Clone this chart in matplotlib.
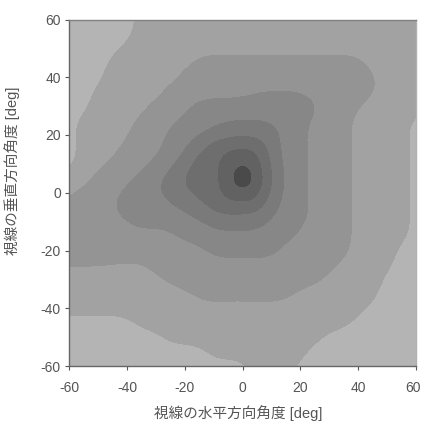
import numpy as np
import matplotlib
matplotlib.use("Agg")
import matplotlib.pyplot as plt
import matplotlib.tri as mtri
from matplotlib.transforms import ScaledTranslation

plt.rcParams['font.family'] = ['Liberation Sans', 'Noto Sans CJK JP', 'DejaVu Sans']
plt.rcParams['axes.unicode_minus'] = False

# grid positions (deg)
h_angle = [-60, -55, -50, -45, -40, -35, -30, -25, -20, -15, -10, -5, 0,
           5, 10, 15, 20, 25, 30, 35, 40, 45, 50, 55, 60]
v_angle = [60, 55, 50, 45, 40, 35, 30, 25, 20, 15, 10, 5, 0,
           -5, -10, -15, -20, -25, -30, -35, -40, -45, -50, -55, -60]

# contour class (0 = lightest, 7 = darkest), rows top to bottom
level = [
    [0, 0, 0, 0, 0, 1, 1, 1, 1, 1, 1, 1, 1, 1, 1, 1, 1, 1, 1, 1, 1, 1, 1, 1, 1],
    [0, 0, 0, 0, 0, 1, 1, 1, 1, 1, 1, 1, 1, 1, 1, 1, 1, 1, 1, 1, 1, 1, 1, 1, 1],
    [0, 0, 0, 0, 1, 1, 1, 1, 1, 1, 1, 1, 1, 1, 1, 1, 1, 1, 1, 1, 1, 1, 1, 1, 1],
    [0, 0, 0, 1, 1, 1, 1, 1, 1, 2, 2, 2, 2, 2, 2, 2, 2, 2, 2, 2, 2, 1, 1, 1, 1],
    [0, 0, 0, 1, 1, 1, 1, 1, 2, 2, 2, 2, 2, 2, 2, 2, 2, 2, 2, 2, 2, 1.7, 1, 1, 1],
    [0, 0, 1, 1, 1, 1, 1, 2, 2, 2, 2, 2, 2, 2.5, 2.5, 2.5, 2.5, 2, 2, 2, 2, 1.7, 1, 1, 1],
    [0, 0, 1, 1, 1, 1, 2, 2, 2, 3, 3, 3, 3, 3, 3, 3, 3, 3, 2, 2, 1.6, 1, 1, 1, 1],
    [0, 1, 1, 1, 1, 2, 2, 2, 3, 3, 3, 3.5, 3.5, 3.5, 3.5, 3, 3, 2, 2, 2, 1, 1, 1, 1, 0],
    [0, 1, 1, 1, 1.4, 2, 2, 3, 3, 3, 4, 4, 4, 4, 4, 3, 3, 2, 2, 2, 1, 1, 1, 1, 0],
    [0, 1, 1, 1, 2, 2, 2, 3, 3, 5, 5, 6, 6, 6, 4, 3, 3, 2, 2, 2, 1, 1, 1, 1, 0],
    [0, 1, 1, 2, 2, 2, 3, 3, 4, 5, 5, 6, 6, 6, 4, 3, 3, 2, 2, 2, 1, 1, 1, 1, 0],
    [1, 1, 2, 2, 2, 3, 3, 4, 5, 5, 5, 6, 9, 6, 5, 3, 3, 2, 2, 2, 1, 1, 1, 1, 0],
    [1, 2, 2, 2, 3, 3, 3.5, 4, 4, 5, 5, 6, 6, 6, 4, 3, 3, 2, 2, 2, 1, 1, 1, 1, 0],
    [2, 2, 2, 2.6, 3, 3, 3, 3, 4, 4, 5, 5, 5, 5, 4, 3, 3, 2, 2, 2, 1, 1, 1, 1, 0],
    [2, 2, 2, 2, 2.5, 3, 3, 3, 3, 3, 4, 4, 4, 4, 3, 3, 3, 2, 2, 2, 1, 1, 1, 1, 0],
    [2, 2, 2, 2, 2, 2, 2, 2, 3, 3, 3, 3, 3, 3, 3, 3, 2, 2, 2, 2, 1, 1, 1, 1, 0],
    [2, 2, 2, 2, 2, 2, 2, 2, 2, 2, 3, 3, 3, 3, 3, 2, 2, 2, 2, 2, 1, 1, 1, 0, 0],
    [1.6, 1.6, 1.55, 1.45, 1.4, 1.3, 2, 2, 2, 2, 2, 2, 2, 2, 2, 2, 2, 2, 2, 1, 1, 1, 1, 0, 0],
    [1, 1, 1, 1, 1, 1, 1, 2, 2, 2, 2, 2, 2, 2, 2, 2, 2, 2, 1, 1, 1, 1, 0, 0, 0],
    [1, 1, 1, 1, 1, 1, 1, 1, 1, 2, 2, 2, 2, 2, 2, 2, 1, 1, 1, 1, 1, 1, 0, 0, 0],
    [1, 1, 1, 1, 1, 1, 1, 1, 1, 1, 1, 1, 1, 1, 1, 1, 1, 1, 1, 1, 1, 0, 0, 0, 0],
    [0, 0, 0, 0, 0, 1, 1, 1, 1, 1, 1, 1, 1, 1, 1, 1, 1, 1, 1, 1, 0, 0, 0, 0, 0],
    [0, 0, 0, 0, 0, 0, 0, 1, 1, 1, 1, 1, 1, 1, 1, 1, 1, 1, 0, 0, 0, 0, 0, 0, 0],
    [0, 0, 0, 0, 0, 0, 0, 0, 0, 0, 1, 1, 1, 1, 1, 1, 1, 0, 0, 0, 0, 0, 0, 0, 0],
    [0, 0, 0, 0, 0, 0, 0, 0, 0, 0, 0, 0, 0, 1, 1, 1, 0, 0, 0, 0, 0, 0, 0, 0, 0],
]

grays = ['#b4b4b4', '#a2a2a2', '#949494', '#878787',
         '#7a7a7a', '#6e6e6e', '#626262', '#4a4a4a']

fig = plt.figure(figsize=(4.22, 4.21), dpi=100)
ax = fig.add_axes([69.3 / 422, 1 - 366 / 421, 346.7 / 422, 346.5 / 421])

# soften the stepped classes so the bands come out rounded
z = np.array(level, dtype=float)
k = np.array([1.0, 2.0, 1.0]) / 4.0
zp = np.pad(z, 1, mode='edge')
z = k[0] * zp[:, :-2] + k[1] * zp[:, 1:-1] + k[2] * zp[:, 2:]
z = k[0] * z[:-2, :] + k[1] * z[1:-1, :] + k[2] * z[2:, :]

gx, gy = np.meshgrid(h_angle, v_angle)
tri = mtri.Triangulation(gx.ravel(), gy.ravel())
tri_fine, z_fine = mtri.UniformTriRefiner(tri).refine_field(z.ravel(), subdiv=3)

ax.tricontourf(tri_fine, z_fine, levels=[-9, 0.5, 1.5, 2.5, 3.5, 4.5, 5.5, 6.5, 99],
               colors=grays)

ax.set_xlim(-60, 60)
ax.set_ylim(-60, 60)
ax.set_xticks(range(-60, 61, 20))
ax.set_yticks(range(-60, 61, 20))
ax.tick_params(direction='out', length=3, width=0.8, color='#555555',
               labelsize=10, labelcolor='#555555')
ax.tick_params(axis='x', pad=8)
ax.tick_params(axis='y', pad=3)
last = ax.get_xticklabels()[-1]
last.set_transform(last.get_transform() + ScaledTranslation(-2 / 72, 0, fig.dpi_scale_trans))

for side, col in [('left', '#666666'), ('bottom', '#666666'),
                  ('top', '#808080'), ('right', '#b0b0b0')]:
    ax.spines[side].set_color(col)
    ax.spines[side].set_linewidth(1.0)

ax.set_xlabel('視線の水平方向角度 [deg]', fontsize=10.5, color='#555555')
ax.set_ylabel('視線の垂直方向角度 [deg]', fontsize=10.5, color='#555555')
ax.xaxis.set_label_coords(0.486, -0.112)
ax.yaxis.set_label_coords(-0.141, 0.563)

fig.savefig('out.png', dpi=100)
